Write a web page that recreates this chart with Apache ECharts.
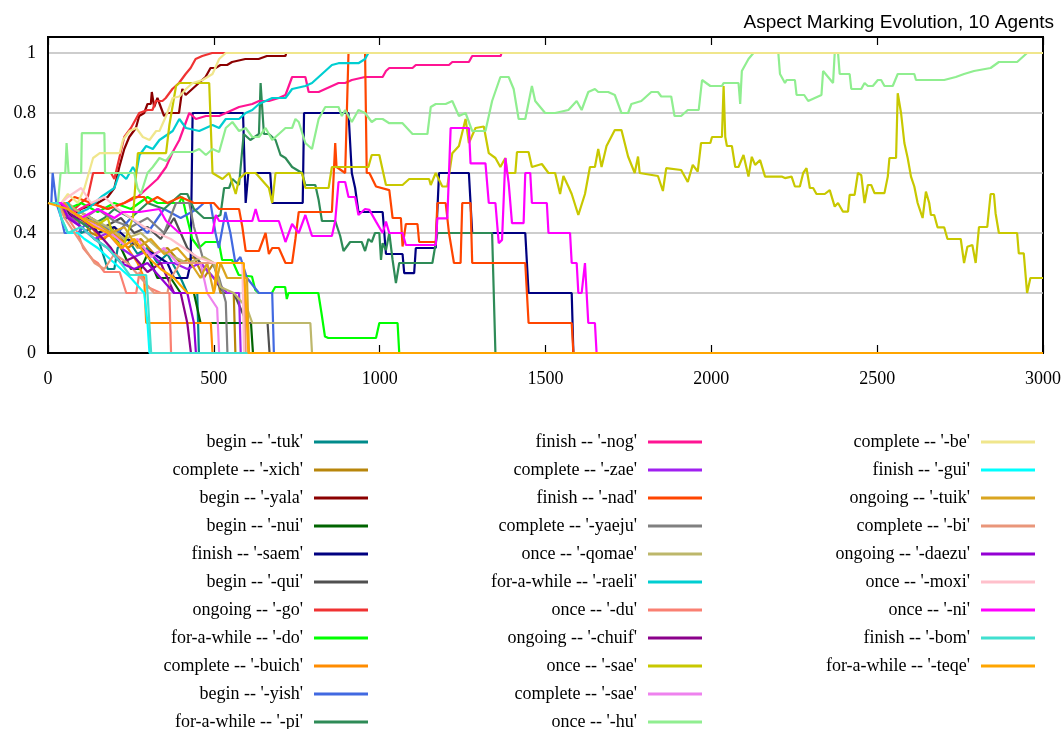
<!DOCTYPE html>
<html>
<head>
<meta charset="utf-8">
<script src="https://cdn.jsdelivr.net/npm/echarts@6/dist/echarts.min.js"></script>
<style>
  html, body { margin: 0; padding: 0; background: #fff; }
  #chart { width: 1064px; height: 729px; }
</style>
</head>
<body>
<div id="chart"></div>
<script>
// Share of agents using each aspect marker over 3000 interaction steps.
const xTicks = [0, 500, 1000, 1500, 2000, 2500, 3000];
const yTicks = [0, 0.2, 0.4, 0.6, 0.8, 1];

const tuk = [[0,.5],[40,.5],[50,.45],[90,.45],[100,.4],[140,.42],[160,.35],[180,.28],[200,.28],[210,.35],[240,.38],[270,.33],[300,.35],[330,.3],[360,.33],[400,.25],[420,.2],[450,.2],[455,0],[3000,0]];
const xich = [[0,.5],[50,.5],[60,.45],[100,.45],[130,.4],[170,.38],[200,.42],[240,.35],[280,.38],[320,.33],[360,.35],[400,.3],[440,.32],[470,.25],[500,.3],[520,.2],[560,.2],[565,0],[3000,0]];
const yala = [[0,.5],[40,.5],[60,.45],[100,.48],[150,.5],[180,.52],[200,.55],[215,.62],[230,.68],[245,.72],[265,.75],[275,.79],[290,.8],[300,.83],[310,.83],[313,.87],[320,.82],[330,.85],[340,.82],[350,.79],[360,.8],[395,.8],[405,.88],[415,.86],[435,.88],[455,.9],[475,.92],[490,.95],[505,.95],[520,.96],[540,.96],[555,.97],[595,.98],[635,.98],[660,.99],[716,.99],[718,1],[3000,1]];
const nui = [[0,.5],[50,.5],[70,.45],[120,.45],[150,.4],[190,.42],[220,.35],[250,.28],[280,.28],[300,.33],[330,.25],[370,.25],[400,.2],[440,.2],[460,.1],[612,.1],[618,0],[3000,0]];
const saem = [[0,.5],[60,.5],[80,.45],[120,.45],[150,.4],[200,.42],[240,.38],[280,.35],[320,.33],[360,.3],[380,.25],[420,.25],[430,.3],[436,.8],[588,.8],[596,.5],[600,.5],[604,.6],[670,.6],[676,.5],[768,.5],[772,.8],[906,.8],[916,.6],[926,.55],[936,.47],[1009,.47],[1019,.33],[1069,.33],[1074,.266],[1104,.266],[1109,.35],[1169,.35],[1179,.6],[1269,.6],[1279,.4],[1439,.4],[1449,.2],[1579,.2],[1584,0],[3000,0]];
const qui = [[0,.5],[60,.5],[80,.48],[130,.45],[170,.42],[220,.45],[260,.4],[300,.42],[340,.38],[380,.45],[420,.35],[460,.3],[500,.25],[530,.2],[560,.2],[600,.1],[662,.1],[668,0],[3000,0]];
const go = [[0,.5],[50,.5],[80,.48],[120,.52],[136,.6],[190,.6],[200,.58],[215,.65],[230,.72],[250,.75],[275,.8],[300,.81],[315,.81],[325,.84],[345,.84],[355,.85],[375,.88],[395,.9],[415,.93],[430,.95],[445,.98],[465,.99],[495,1],[3000,1]];
const doo = [[0,.5],[40,.5],[60,.48],[100,.5],[150,.47],[200,.5],[250,.48],[300,.52],[330,.5],[395,.5],[405,.52],[415,.47],[435,.38],[455,.35],[475,.37],[515,.37],[525,.31],[555,.31],[575,.26],[615,.255],[625,.21],[635,.2],[675,.2],[685,.22],[715,.22],[720,.18],[725,.2],[815,.2],[825,.13],[835,.055],[845,.05],[989,.05],[999,.1],[1054,.1],[1059,0],[3000,0]];
const buich = [[0,.5],[40,.5],[50,.46],[90,.44],[130,.42],[160,.38],[200,.4],[240,.35],[270,.3],[290,.25],[296,.1],[491,.1],[496,0],[3000,0]];
const yish = [[0,.5],[10,.5],[14,.6],[20,.6],[25,.5],[40,.45],[50,.4],[90,.4],[130,.45],[170,.42],[210,.4],[250,.45],[300,.4],[350,.48],[400,.45],[450,.48],[470,.5],[490,.5],[505,.4],[515,.35],[535,.47],[550,.4],[565,.3],[580,.32],[600,.25],[636,.2],[676,.2],[681,0],[3000,0]];
const pi = [[0,.5],[50,.5],[80,.45],[120,.42],[170,.45],[200,.48],[250,.45],[300,.5],[350,.48],[400,.53],[420,.53],[440,.48],[470,.45],[500,.45],[520,.46],[531,.55],[546,.55],[556,.58],[576,.56],[590,.73],[610,.71],[636,.73],[641,.9],[646,.9],[651,.73],[666,.73],[686,.71],[701,.66],[716,.65],[736,.62],[766,.6],[776,.56],[806,.56],[816,.51],[826,.44],[866,.44],[881,.39],[891,.34],[911,.37],[946,.37],[956,.34],[966,.38],[976,.37],[986,.4],[999,.4],[1004,.31],[1009,.366],[1019,.343],[1029,.4],[1039,.31],[1049,.233],[1054,.233],[1059,.3],[1159,.3],[1174,.4],[1339,.4],[1349,0],[3000,0]];
const nog = [[0,.5],[60,.5],[80,.47],[130,.5],[180,.48],[230,.5],[270,.52],[300,.55],[330,.58],[356,.62],[376,.67],[396,.71],[416,.77],[426,.8],[446,.78],[476,.79],[516,.79],[536,.8],[576,.82],[616,.83],[636,.84],[666,.84],[696,.85],[716,.86],[736,.92],[776,.92],[786,.87],[816,.87],[836,.88],[856,.89],[876,.9],[896,.9],[916,.91],[956,.92],[1009,.92],[1019,.94],[1029,.95],[1099,.95],[1109,.96],[1209,.96],[1219,.97],[1269,.97],[1279,.99],[1365,.99],[1367,1],[3000,1]];
const zae = [[0,.5],[40,.5],[60,.46],[100,.42],[140,.38],[180,.4],[220,.35],[260,.32],[300,.34],[340,.3],[380,.3],[420,.28],[460,.3],[500,.25],[540,.2],[576,.2],[581,0],[3000,0]];
const nad = [[0,.5],[60,.5],[80,.52],[130,.5],[180,.48],[230,.5],[260,.52],[290,.52],[300,.5],[330,.52],[360,.5],[400,.52],[440,.5],[500,.5],[516,.48],[576,.48],[586,.42],[596,.34],[636,.34],[656,.4],[666,.33],[676,.35],[696,.35],[716,.3],[736,.3],[746,.38],[756,.47],[856,.47],[866,.7],[870,.62],[896,.6],[906,1],[956,1],[961,.6],[969,.6],[989,.555],[1029,.543],[1039,.45],[1064,.45],[1069,.355],[1079,.43],[1114,.43],[1119,.37],[1169,.37],[1174,.5],[1199,.5],[1209,.4],[1224,.3],[1244,.3],[1249,.5],[1274,.5],[1279,.3],[1439,.3],[1449,.1],[1579,.1],[1584,0],[3000,0]];
const yaeju = [[0,.5],[50,.5],[70,.47],[110,.45],[150,.48],[200,.44],[250,.42],[300,.45],[350,.4],[386,.5],[426,.5],[440,.42],[466,.32],[496,.3],[516,.25],[536,.17],[541,0],[3000,0]];
const qomae = [[0,.5],[60,.5],[80,.48],[130,.45],[180,.42],[230,.38],[280,.4],[330,.35],[380,.32],[420,.3],[470,.32],[500,.3],[520,.22],[560,.2],[600,.15],[616,.1],[791,.1],[796,0],[3000,0]];
const raeli = [[0,.5],[60,.5],[80,.46],[120,.48],[160,.52],[200,.55],[216,.6],[236,.58],[256,.62],[266,.6],[276,.66],[296,.69],[316,.68],[336,.71],[376,.74],[396,.78],[416,.75],[456,.74],[476,.75],[496,.76],[516,.75],[536,.78],[576,.78],[596,.8],[616,.81],[636,.83],[656,.84],[676,.85],[716,.85],[736,.88],[776,.89],[796,.9],[816,.92],[836,.94],[856,.96],[876,.966],[936,.966],[956,.98],[966,1],[3000,1]];
const du = [[0,.5],[40,.5],[60,.45],[90,.4],[106,.35],[136,.31],[150,.3],[170,.27],[216,.27],[236,.2],[266,.2],[276,.27],[300,.22],[340,.2],[366,.2],[371,0],[3000,0]];
const chuif = [[0,.5],[50,.5],[70,.46],[110,.44],[150,.4],[190,.35],[220,.3],[260,.32],[300,.27],[340,.3],[380,.2],[400,.2],[420,.1],[426,.1],[431,0],[3000,0]];
const saeOnce = [[0,.5],[40,.5],[60,.48],[100,.45],[140,.42],[180,.45],[200,.38],[226,.35],[240,.4],[256,.45],[266,.6],[271,.666],[356,.666],[366,.76],[386,.89],[396,.9],[486,.9],[496,.6],[526,.58],[546,.6],[566,.53],[576,.58],[596,.6],[626,.6],[666,.55],[676,.5],[686,.6],[766,.6],[776,.55],[846,.55],[856,.62],[966,.62],[976,.66],[999,.66],[1019,.56],[1069,.56],[1089,.58],[1149,.58],[1154,.56],[1169,.6],[1189,.555],[1204,.555],[1219,.666],[1239,.69],[1259,.78],[1269,.7],[1289,.75],[1314,.755],[1329,.666],[1349,.65],[1364,.62],[1379,.65],[1384,.6],[1409,.6],[1414,.67],[1449,.67],[1459,.62],[1489,.63],[1509,.6],[1529,.6],[1544,.53],[1554,.59],[1569,.555],[1579,.53],[1599,.46],[1619,.53],[1634,.62],[1649,.62],[1659,.68],[1669,.62],[1684,.69],[1709,.743],[1729,.743],[1749,.655],[1769,.6],[1779,.655],[1784,.6],[1839,.59],[1854,.54],[1864,.616],[1909,.61],[1929,.57],[1944,.627],[1959,.605],[1969,.7],[1997,.7],[2002,.72],[2032,.72],[2037,.89],[2042,.72],[2047,.69],[2062,.69],[2072,.62],[2082,.62],[2097,.66],[2112,.588],[2122,.654],[2132,.627],[2147,.643],[2162,.588],[2212,.588],[2222,.583],[2242,.588],[2252,.555],[2267,.555],[2277,.6],[2287,.616],[2297,.55],[2307,.55],[2317,.53],[2342,.53],[2357,.543],[2372,.488],[2382,.5],[2397,.471],[2412,.471],[2417,.527],[2432,.527],[2442,.6],[2452,.593],[2462,.5],[2472,.56],[2482,.56],[2492,.533],[2522,.533],[2532,.588],[2537,.65],[2557,.65],[2562,.866],[2572,.8],[2582,.7],[2592,.65],[2602,.588],[2612,.555],[2622,.5],[2637,.45],[2647,.538],[2657,.5],[2662,.46],[2672,.46],[2682,.419],[2702,.419],[2712,.38],[2752,.38],[2762,.3],[2772,.354],[2787,.36],[2797,.3],[2807,.42],[2832,.42],[2842,.53],[2852,.53],[2857,.466],[2867,.4],[2922,.4],[2927,.332],[2942,.332],[2952,.2],[2962,.25],[3000,.25]];
const saeComplete = [[0,.5],[50,.5],[70,.47],[110,.45],[150,.42],[190,.4],[230,.36],[270,.38],[310,.32],[350,.35],[390,.3],[430,.3],[460,.3],[480,.2],[510,.15],[516,0],[3000,0]];
const hu = [[0,.5],[30,.5],[38,.6],[52,.6],[56,.7],[62,.6],[100,.6],[102,.733],[170,.733],[172,.6],[260,.6],[270,.55],[280,.53],[300,.6],[316,.62],[336,.65],[356,.64],[376,.67],[436,.67],[456,.68],[476,.66],[496,.68],[516,.67],[536,.75],[556,.77],[576,.74],[596,.75],[616,.72],[636,.72],[656,.75],[676,.71],[696,.73],[716,.75],[736,.75],[746,.78],[756,.77],[776,.7],[796,.68],[816,.78],[836,.82],[876,.82],[886,.79],[896,.81],[916,.77],[936,.81],[956,.8],[976,.77],[989,.78],[1009,.78],[1029,.766],[1069,.766],[1099,.73],[1119,.73],[1144,.73],[1154,.82],[1169,.83],[1199,.83],[1219,.84],[1239,.79],[1259,.8],[1279,.74],[1319,.74],[1339,.84],[1364,.92],[1389,.92],[1404,.88],[1419,.78],[1439,.78],[1459,.89],[1469,.84],[1499,.8],[1529,.8],[1569,.81],[1594,.84],[1609,.81],[1629,.87],[1649,.88],[1659,.87],[1689,.87],[1709,.86],[1729,.8],[1749,.8],[1759,.83],[1789,.84],[1819,.87],[1839,.87],[1849,.855],[1879,.855],[1889,.79],[1909,.79],[1929,.81],[1962,.81],[1972,.91],[1997,.89],[2032,.89],[2037,.9],[2082,.9],[2087,.83],[2092,.94],[2112,.98],[2127,1],[2202,1],[2207,.93],[2222,.9],[2227,.91],[2252,.91],[2257,.86],[2280,.86],[2292,.84],[2332,.86],[2337,.94],[2352,.92],[2367,.9],[2372,1],[2382,1],[2387,.93],[2417,.93],[2422,.88],[2452,.88],[2462,.9],[2472,.89],[2487,.89],[2502,.91],[2512,.91],[2522,.89],[2547,.89],[2562,.93],[2612,.93],[2617,.91],[2702,.91],[2737,.92],[2762,.93],[2792,.94],[2842,.95],[2867,.97],[2922,.97],[2932,.98],[2952,1],[3000,1]];
const be = [[0,.5],[40,.5],[60,.53],[90,.5],[110,.55],[136,.65],[156,.666],[216,.666],[226,.71],[246,.74],[266,.75],[286,.72],[306,.71],[326,.74],[336,.74],[356,.79],[376,.85],[396,.855],[416,.88],[436,.9],[466,.91],[496,.93],[516,.98],[536,1],[3000,1]];
const gui = [[0,.5],[30,.5],[40,.45],[60,.4],[90,.4],[110,.38],[150,.35],[200,.3],[250,.25],[290,.2],[300,.1],[306,0],[3000,0]];
const tuik = [[0,.5],[50,.5],[70,.47],[110,.45],[150,.43],[190,.4],[230,.42],[270,.35],[310,.38],[350,.33],[390,.35],[430,.3],[460,.25],[480,.3],[500,.2],[520,.3],[540,.25],[600,.25],[606,0],[3000,0]];
const bi = [[0,.5],[30,.5],[50,.45],[80,.4],[110,.35],[140,.3],[170,.28],[200,.33],[240,.3],[280,.25],[320,.2],[360,.2],[370,.25],[400,.3],[500,.3],[590,.3],[596,0],[3000,0]];
const daezu = [[0,.5],[40,.5],[60,.45],[100,.42],[140,.38],[180,.35],[220,.3],[260,.28],[300,.3],[340,.25],[380,.2],[420,.2],[440,.1],[446,0],[3000,0]];
const moxi = [[0,.5],[40,.5],[60,.52],[100,.55],[130,.5],[170,.52],[210,.48],[250,.45],[290,.42],[330,.4],[370,.38],[410,.35],[450,.32],[500,.3],[586,.3],[591,0],[3000,0]];
const ni = [[0,.5],[40,.5],[60,.48],[100,.45],[150,.48],[200,.45],[226,.47],[276,.47],[336,.48],[356,.44],[396,.4],[496,.4],[506,.46],[516,.44],[616,.44],[626,.48],[636,.44],[696,.44],[716,.37],[736,.43],[756,.4],[776,.46],[796,.39],[856,.39],[866,.44],[876,.57],[896,.57],[906,.52],[926,.52],[936,.46],[956,.48],[969,.477],[989,.438],[1009,.4],[1019,.438],[1029,.4],[1069,.4],[1079,.36],[1169,.36],[1174,.449],[1204,.449],[1214,.75],[1269,.75],[1274,.632],[1319,.632],[1329,.5],[1349,.5],[1359,.366],[1369,.377],[1379,.65],[1389,.566],[1399,.433],[1434,.433],[1439,.6],[1454,.6],[1459,.5],[1504,.5],[1509,.4],[1574,.4],[1579,.3],[1594,.3],[1599,.2],[1609,.2],[1619,.3],[1629,.1],[1649,.1],[1654,0],[3000,0]];
const bom = [[0,.5],[30,.5],[40,.45],[60,.4],[100,.42],[140,.38],[180,.35],[220,.3],[246,.26],[296,.26],[300,.2],[306,.2],[311,0],[3000,0]];
const teqe = [[0,.5],[60,.48],[100,.45],[140,.42],[180,.4],[220,.35],[260,.38],[300,.32],[340,.28],[380,.25],[420,.2],[500,.2],[510,.3],[590,.3],[600,.1],[604,0],[3000,0]];

// name, values, colour — in plotting order; the legend fills column by column
const markers = [
  ["begin -- '-tuk'", tuk, '#008b8b'],
  ["complete -- '-xich'", xich, '#b8860b'],
  ["begin -- '-yala'", yala, '#8b0000'],
  ["begin -- '-nui'", nui, '#006400'],
  ["finish -- '-saem'", saem, '#000080'],
  ["begin -- '-qui'", qui, '#505050'],
  ["ongoing -- '-go'", go, '#f03232'],
  ["for-a-while -- '-do'", doo, '#00ff00'],
  ["complete -- '-buich'", buich, '#ff8c00'],
  ["begin -- '-yish'", yish, '#4169e1'],
  ["for-a-while -- '-pi'", pi, '#2e8b57'],
  ["finish -- '-nog'", nog, '#ff1493'],
  ["complete -- '-zae'", zae, '#a020f0'],
  ["finish -- '-nad'", nad, '#ff4500'],
  ["complete -- '-yaeju'", yaeju, '#808080'],
  ["once -- '-qomae'", qomae, '#bdb76b'],
  ["for-a-while -- '-raeli'", raeli, '#00ced1'],
  ["once -- '-du'", du, '#fa8072'],
  ["ongoing -- '-chuif'", chuif, '#8b008b'],
  ["once -- '-sae'", saeOnce, '#c8c800'],
  ["complete -- '-sae'", saeComplete, '#ee82ee'],
  ["once -- '-hu'", hu, '#90ee90'],
  ["complete -- '-be'", be, '#f0e68c'],
  ["finish -- '-gui'", gui, '#00ffff'],
  ["ongoing -- '-tuik'", tuik, '#daa520'],
  ["complete -- '-bi'", bi, '#e9967a'],
  ["ongoing -- '-daezu'", daezu, '#9400d3'],
  ["once -- '-moxi'", moxi, '#ffc0cb'],
  ["once -- '-ni'", ni, '#ff00ff'],
  ["finish -- '-bom'", bom, '#40e0d0'],
  ["for-a-while -- '-teqe'", teqe, '#ffa500']
];

const serif = "'Liberation Serif', 'Times New Roman', serif";
const rowsPerColumn = 11;
const columnRight = [696, 362, 29];   // distance of each legend column's line sample from the right edge
const firstRowTop = 432, rowStep = 28;

const legends = markers.map((m, i) => {
  const col = Math.floor(i / rowsPerColumn), row = i % rowsPerColumn;
  return {
    data: [{ name: m[0], icon: 'rect', itemStyle: { color: m[2] } }],
    right: columnRight[col],
    top: firstRowTop + row * rowStep,
    align: 'right',
    orient: 'vertical',
    padding: 0,
    itemWidth: 54,
    itemHeight: 3,
    selectedMode: false,
    textStyle: { fontFamily: serif, fontSize: 18, color: '#000', lineHeight: 20, padding: [0, 6, 0, 0] }
  };
});

const chart = echarts.init(document.getElementById('chart'), null, { renderer: 'canvas' });
chart.setOption({
  animation: false,
  backgroundColor: '#fff',
  title: {
    text: 'Aspect Marking Evolution, 10 Agents',
    right: 5, top: 8,
    textStyle: { fontFamily: "'Liberation Sans', Arial, sans-serif", fontSize: 19, fontWeight: 'normal', color: '#000' }
  },
  legend: legends,
  grid: { left: 48, right: 19, top: 37, bottom: 376, show: true, borderColor: '#000', borderWidth: 2 },
  xAxis: [{
    type: 'value', min: xTicks[0], max: xTicks[xTicks.length - 1], interval: 500,
    axisLine: { show: true, lineStyle: { color: '#000', width: 2 } },
    axisTick: { show: true, inside: true, length: 8, lineStyle: { color: '#000', width: 1.2 } },
    axisLabel: { fontFamily: serif, fontSize: 18, color: '#000', margin: 17, formatter: v => String(v) },
    splitLine: { show: false }
  }, {
    type: 'value', position: 'top', min: xTicks[0], max: xTicks[xTicks.length - 1], interval: 500,
    axisLine: { show: true, lineStyle: { color: '#000', width: 2 } },
    axisTick: { show: true, inside: true, length: 8, lineStyle: { color: '#000', width: 1.2 } },
    axisLabel: { show: false },
    splitLine: { show: false }
  }],
  yAxis: {
    type: 'value', min: 0, max: 1 + 16 / 300, interval: 0.2,
    axisLine: { show: true, lineStyle: { color: '#000', width: 2 } },
    axisTick: { show: false },
    axisLabel: {
      fontFamily: serif, fontSize: 18, color: '#000', margin: 12,
      formatter: v => {
        const t = yTicks.find(k => Math.abs(k - v) < 1e-6);
        return t === undefined ? '' : String(t);
      }
    },
    splitLine: { show: true, lineStyle: { color: '#bdbdbd', width: 1.5 } }
  },
  series: markers.map(m => ({
    name: m[0],
    type: 'line',
    data: m[1],
    symbol: 'none',
    color: m[2],
    lineStyle: { color: m[2], width: 2.2 },
    xAxisIndex: 0
  }))
});
</script>
</body>
</html>
